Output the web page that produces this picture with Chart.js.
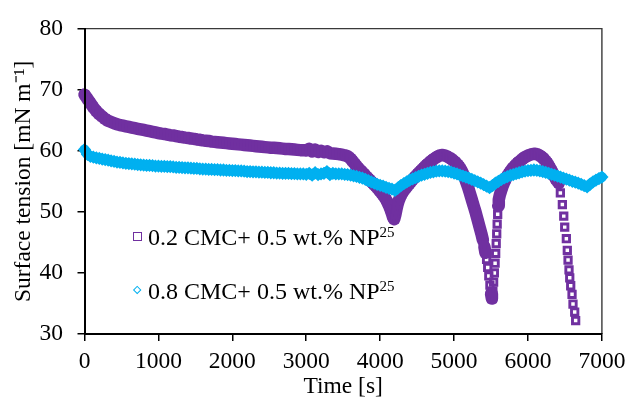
<!DOCTYPE html>
<html><head><meta charset="utf-8">
<script src="https://cdn.jsdelivr.net/npm/chart.js@4.4.1/dist/chart.umd.min.js"></script>
<style>
html,body{margin:0;padding:0;background:#fff;}
#wrap{position:relative;width:632px;height:403px;overflow:hidden;}
canvas{position:absolute;left:0;top:0;}
.leg{position:absolute;font-family:'Liberation Serif','Times New Roman',serif;font-size:24px;line-height:22px;color:#000;white-space:nowrap;}
.leg sup{font-size:15px;line-height:0;vertical-align:0;position:relative;top:-8px;}
.mk{position:absolute;box-sizing:border-box;}
</style></head><body>
<div id="wrap"><canvas id="c" width="632" height="403"></canvas></div>
<script>
// ---------- data ----------
const xTicks = [0,1000,2000,3000,4000,5000,6000,7000];
const yTicks = [30,40,50,60,70,80];
const seriesNames = ['0.2 CMC+ 0.5 wt.% NP', '0.8 CMC+ 0.5 wt.% NP'];
const seriesSup = ['25', '25'];
const xTitle = 'Time [s]';
const yTitle = 'Surface tension [mN m\u207B\u00B9]';

// series 1: 0.2 CMC (purple squares)
const purpleTime = [
0,40,80,120,160,200,240,280,320,360,400,440,480,520,560,600,640,680,720,760,
800,840,880,920,960,1000,1040,1080,1120,1160,1200,1240,1280,1320,1360,1400,1440,1480,1520,1560,
1600,1640,1680,1720,1760,1800,1840,1880,1920,1960,2000,2040,2080,2120,2160,2200,2240,2280,2320,2360,
2400,2440,2480,2520,2560,2600,2640,2680,2720,2760,2800,2840,2880,2920,2960,3000,3040,3080,3120,3160,
3200,3240,3280,3320,3360,3400,3440,3480,3520,
3560,3580,3600,3620,3640,3660,3680,3700,3720,3740,3760,3780,3800,3820,3840,3860,3880,3900,3920,3940,
3960,3980,4000,4020,4040,4060,4080,4100,4120,4140,4160,4175,4190,4205,4220,4235,4250,4270,4290,4310,
4330,4350,4370,4390,4410,4430,4450,4470,4490,4510,4530,4550,4570,4590,4610,4630,4650,4670,4690,4710,
4730,4750,4770,4790,4810,4830,4850,4870,4890,4910,4930,4950,4970,4990,5010,5030,5050,5070,5090,5110,
5130,5150,5170,5190,5210,5230,5250,5270,5290,5310,5330,5350,5370,5390,5410,5425,5440,5455,5470,5485,
5500,5512,5525,5535,5545,5555,5563,5570,5577,5583,5590,5597,5605,5620,5640,5660,5680,5700,5720,5740,
5760,5780,5800,5820,5840,5860,5880,5900,5920,5940,5960,5980,6000,6020,6040,6060,6080,6100,6120,6140,
6160,6180,6200,6220,6240,6260,6280,6300,6320,6340,6360,6380,6400,6416,6438,6465,6484,6497,6519,6532,
6542,6555,6565,6578,6596,6609,6632,6645];
const purpleTension = [
69.2,68.5,67.8,67.1,66.5,66.0,65.6,65.2,64.9,64.7,64.5,64.35,64.2,64.1,64.0,63.9,63.8,63.7,63.6,63.5,
63.4,63.3,63.2,63.1,63.0,62.9,62.8,62.75,62.65,62.55,62.5,62.4,62.3,62.25,62.15,62.1,62.0,61.95,61.85,61.8,
61.7,61.65,61.6,61.5,61.45,61.4,61.35,61.3,61.25,61.2,61.15,61.1,61.05,61.0,60.95,60.9,60.85,60.8,60.75,60.7,
60.65,60.6,60.55,60.5,60.5,60.45,60.4,60.35,60.3,60.3,60.25,60.2,60.15,60.1,60.1,60.05,60.3,59.9,60.2,59.8,
60.0,59.75,59.9,59.6,59.55,59.5,59.45,59.35,59.25,
59.1,58.9,58.7,58.4,58.1,57.8,57.5,57.2,56.95,56.7,56.45,56.2,55.95,55.7,55.45,55.2,54.95,54.7,54.45,54.2,
53.95,53.65,53.35,53.05,52.75,52.4,52.0,51.55,51.0,50.4,49.7,49.1,48.8,49.5,50.4,51.2,51.8,52.4,52.9,53.3,
53.65,53.95,54.25,54.55,54.85,55.15,55.45,55.7,55.95,56.2,56.45,56.7,56.95,57.2,57.45,57.7,57.9,58.1,58.3,58.5,
58.7,58.85,59.0,59.15,59.25,59.3,59.3,59.25,59.15,59.05,58.9,58.75,58.6,58.4,58.2,57.95,57.7,57.4,57.0,56.55,
56.0,55.4,54.7,54.0,53.2,52.4,51.6,50.8,50.0,49.1,48.2,47.3,46.4,45.4,44.3,43.3,42.2,40.9,39.5,38.0,
36.6,35.8,37.0,38.5,40.0,41.6,43.2,44.8,46.4,48.0,49.6,51.0,52.0,52.8,53.6,54.3,54.9,55.4,55.85,56.25,
56.6,56.95,57.25,57.5,57.75,58.0,58.2,58.4,58.6,58.8,58.95,59.1,59.2,59.3,59.4,59.45,59.5,59.5,59.45,59.35,
59.2,59.05,58.85,58.6,58.3,58.0,57.6,57.2,56.75,56.3,55.8,55.3,55.0,54.7,53.1,51.2,49.3,47.5,45.6,43.7,
42.1,40.5,39.2,37.9,36.5,34.9,33.6,32.2];

// series 2: 0.8 CMC (cyan diamonds)
const cyanTime = [
0,40,80,120,160,200,240,280,320,360,400,440,480,520,560,600,640,680,720,760,
800,840,880,920,960,1000,1040,1080,1120,1160,1200,1240,1280,1320,1360,1400,1440,1480,1520,1560,
1600,1640,1680,1720,1760,1800,1840,1880,1920,1960,2000,2040,2080,2120,2160,2200,2240,2280,2320,2360,
2400,2440,2480,2520,2560,2600,2640,2680,2720,2760,2800,2840,2880,2920,2960,3000,3040,3080,3120,3160,
3200,3240,3280,3320,3360,3400,3440,3480,3520,3560,3600,3640,3680,3720,3760,3800,3840,3880,3920,3960,
4000,4040,4080,4120,4160,4200,4240,4280,4320,4360,4400,4440,4480,4520,4560,4600,4640,4680,4720,4760,
4800,4840,4880,4920,4960,5000,5040,5080,5120,5160,5200,5240,5280,5320,5360,5400,5440,5480,5520,5560,
5600,5640,5680,5720,5760,5800,5840,5880,5920,5960,6000,6040,6080,6120,6160,6200,6240,6280,6320,6360,
6400,6440,6480,6520,6560,6600,6640,6680,6720,6760,6800,6840,6880,6920,6960,7000];
const cyanTension = [
60.2,59.4,59.1,58.95,58.85,58.75,58.65,58.55,58.45,58.35,58.25,58.15,58.1,58.0,57.95,57.9,57.85,57.8,57.75,57.7,
57.65,57.6,57.6,57.55,57.5,57.5,57.45,57.45,57.4,57.4,57.35,57.3,57.3,57.25,57.2,57.2,57.15,57.1,57.1,57.05,
57.0,57.0,56.95,56.95,56.9,56.9,56.85,56.85,56.8,56.8,56.75,56.75,56.7,56.7,56.65,56.6,56.6,56.55,56.55,56.5,
56.5,56.45,56.45,56.4,56.4,56.35,56.35,56.3,56.3,56.3,56.25,56.25,56.2,56.2,56.2,56.15,56.3,56.0,56.4,56.1,
56.2,56.3,56.6,56.1,56.3,56.2,56.2,56.2,56.15,56.1,56.0,55.9,55.8,55.65,55.5,55.3,55.1,54.9,54.7,54.5,
54.35,54.2,54.0,53.85,53.7,53.5,53.9,54.3,54.6,54.9,55.2,55.4,55.6,55.8,56.0,56.15,56.3,56.45,56.55,56.65,
56.7,56.7,56.65,56.6,56.5,56.35,56.2,56.0,55.85,55.7,55.5,55.3,55.1,54.9,54.7,54.45,54.2,53.95,54.3,54.7,
55.0,55.3,55.55,55.75,55.95,56.1,56.25,56.4,56.55,56.65,56.75,56.8,56.85,56.8,56.7,56.6,56.45,56.3,56.15,56.0,
55.85,55.7,55.5,55.35,55.2,55.0,54.85,54.7,54.5,54.3,54.1,54.55,54.9,55.2,55.45,55.7];

// ---------- chart ----------
const FONT = "'Liberation Serif', 'Times New Roman', serif";
const FS = 23.5;
const PURPLE = '#7030A0', CYAN = '#00B0F0';
const NONE = 'rgba(0,0,0,0)';
const toPts = (t, v) => t.map((x, i) => ({x: x, y: v[i]}));
// dense runs of overlapping markers read as a solid band; sparse runs show single markers
const bandColor = col => c => (Math.hypot(c.p1.x - c.p0.x, c.p1.y - c.p0.y) > 6.5 ? NONE : col);

const frame = {
  id: 'frame',
  beforeDatasetsDraw(chart) {
    const {ctx, chartArea: a} = chart;
    ctx.save();
    ctx.strokeStyle = '#3a3a3a';
    ctx.lineWidth = 1.4;
    ctx.beginPath();
    ctx.moveTo(a.left, a.top);
    ctx.lineTo(a.right, a.top);
    ctx.lineTo(a.right, a.bottom);
    ctx.stroke();
    ctx.restore();
  }
};

new Chart(document.getElementById('c'), {
  type: 'scatter',
  data: {
    datasets: [
      {label: seriesNames[0] + seriesSup[0], data: toPts(purpleTime, purpleTension),
       showLine: true, borderWidth: 12.5, tension: 0, borderJoinStyle: 'round', borderCapStyle: 'round',
       segment: {borderColor: bandColor(PURPLE)},
       pointStyle: 'rect', pointRadius: 4.5, pointBorderWidth: 2.9,
       borderColor: PURPLE, pointBorderColor: PURPLE, backgroundColor: NONE, pointBackgroundColor: NONE,
       order: 2, clip: false},
      {label: seriesNames[1] + seriesSup[1], data: toPts(cyanTime, cyanTension),
       showLine: true, borderWidth: 10, tension: 0, borderJoinStyle: 'round', borderCapStyle: 'round',
       segment: {borderColor: bandColor(CYAN)},
       pointStyle: 'rectRot', pointRadius: 5, pointBorderWidth: 2.3,
       borderColor: CYAN, pointBorderColor: CYAN, backgroundColor: NONE, pointBackgroundColor: NONE,
       order: 1, clip: false}
    ]
  },
  options: {
    responsive: false, animation: false, devicePixelRatio: 1,
    layout: {padding: {left: 0, right: 28, top: 22, bottom: 0}},
    plugins: {legend: {display: false}, tooltip: {enabled: false}},
    events: [],
    scales: {
      x: {
        type: 'linear', min: xTicks[0], max: xTicks[xTicks.length - 1],
        afterBuildTicks: s => { s.ticks = xTicks.map(v => ({value: v})); },
        afterFit: s => { s.height = 69; },
        ticks: {color: '#000', font: {family: FONT, size: FS}, padding: 6.6, maxRotation: 0, autoSkip: false,
                callback: v => String(v)},
        grid: {display: true, drawOnChartArea: false, drawTicks: true, tickLength: 7, color: '#000', lineWidth: 1.5},
        border: {display: true, color: '#000', width: 2, z: 1},
        title: {display: true, text: xTitle, color: '#000', font: {family: FONT, size: FS}, padding: {top: 0, bottom: 1.6}}
      },
      y: {
        type: 'linear', min: yTicks[0], max: yTicks[yTicks.length - 1],
        afterBuildTicks: s => { s.ticks = yTicks.map(v => ({value: v})); },
        afterFit: s => { s.width = 84.5; },
        ticks: {color: '#000', font: {family: FONT, size: FS}, padding: 14.5, autoSkip: false,
                callback: v => String(v)},
        grid: {display: true, drawOnChartArea: false, drawTicks: true, tickLength: 7, color: '#000', lineWidth: 1.5},
        border: {display: true, color: '#000', width: 2, z: 1},
        title: {display: true, text: yTitle, color: '#000', font: {family: FONT, size: FS}, padding: {top: 10, bottom: 0}}
      }
    }
  },
  plugins: [frame]
});

// ---------- legend (HTML text, inside plot) ----------
const wrap = document.getElementById('wrap');
const legendItems = [
  {color: PURPLE, shape: 'square', markLeft: 133, markTop: 232, textTop: 226},
  {color: CYAN, shape: 'diamond', markLeft: 133.5, markTop: 286.8, textTop: 280}
];
legendItems.forEach((it, i) => {
  const m = document.createElement('div');
  m.className = 'mk';
  if (it.shape === 'square') {
    m.style.cssText = `left:${it.markLeft}px;top:${it.markTop}px;width:9px;height:9px;border:1.4px solid ${it.color}`;
  } else {
    m.style.cssText = `left:${it.markLeft}px;top:${it.markTop}px;width:6.4px;height:6.4px;border:1.4px solid ${it.color};transform:rotate(45deg)`;
  }
  wrap.appendChild(m);
  const t = document.createElement('div');
  t.className = 'leg';
  t.style.left = '148px';
  t.style.top = it.textTop + 'px';
  t.appendChild(document.createTextNode(seriesNames[i]));
  const s = document.createElement('sup');
  s.textContent = seriesSup[i];
  t.appendChild(s);
  wrap.appendChild(t);
});
</script>
</body></html>
